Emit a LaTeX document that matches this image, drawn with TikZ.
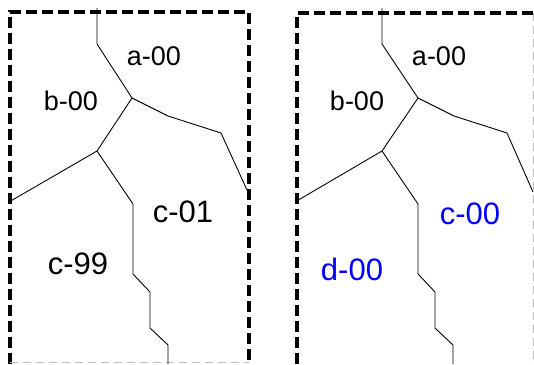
\documentclass[tikz,border=0pt]{standalone}
\usepackage{fontspec}
\setmainfont{Liberation Sans}
\begin{document}
\begin{tikzpicture}[x=1pt,y=-1pt,
    frame/.style={line width=4pt,dash pattern=on 11pt off 5pt},
    cut/.style={black!25,line width=1pt,dash pattern=on 8pt off 5pt},
    border/.style={line width=0.9pt},
    small/.style={inner sep=0pt,font=\fontsize{27}{30}\selectfont},
    big/.style={inner sep=0pt,font=\fontsize{31}{34}\selectfont}]
    \useasboundingbox (0,0) rectangle (534,364);

    % left panel
    \draw[frame] (10,364) -- (10,12) -- (249,12) -- (249,364);
    \draw[cut] (10,362) -- (249,362);
    \coordinate (P) at (132,98);
    \coordinate (Q) at (97,151);
    \draw[border] (97,8) -- (97,44) -- (P) -- (168,116) -- (221,133) -- (247,190);
    \draw[border] (P) -- (Q) -- (9,202);
    \draw[border] (Q) -- (133,204) -- (133,274) -- (150,292) -- (150,328) -- (168,345) -- (168,364);
    \node[small] (A) at (154,56)  {a-00};
    \node[small] (B) at (71,101)  {b-00};
    \node[big]   (C) at (183,212) {c-01};
    \node[big]   (D) at (78,264)  {c-99};

    % right panel
    \draw[frame] (297,364) -- (297,13) -- (534,13);
    \draw[cut] (533,13) -- (533,364);
    \coordinate (P') at (418,98);
    \coordinate (Q') at (382,151);
    \draw[border] (382,8) -- (382,44) -- (P') -- (454,116) -- (507,133) -- (533,192);
    \draw[border] (P') -- (Q') -- (295,202);
    \draw[border] (Q') -- (418,204) -- (418,274) -- (435,292) -- (435,328) -- (453,345) -- (453,364);
    \node[small] (A') at (439,56)  {a-00};
    \node[small] (B') at (357,101) {b-00};
    \node[big,blue] (C') at (470,214) {c-00};
    \node[big,blue] (D') at (352,269) {d-00};
\end{tikzpicture}
\end{document}
